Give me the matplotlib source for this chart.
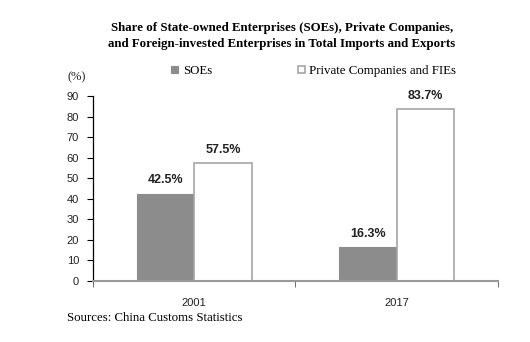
import matplotlib.pyplot as plt
import numpy as np

# --- Data ---
years = ['2001', '2017']
soes = [42.5, 16.3]
private_fies = [57.5, 83.7]
series_names = ['SOEs', 'Private Companies and FIEs']

serif = 'Liberation Serif'
sans = 'Liberation Sans'

fig = plt.figure(figsize=(5.3, 3.42), dpi=100)
ax = fig.add_axes([0.1755, 0.1784, 0.764, 0.541])

x = np.arange(len(years))
w = 0.285
grey = '#8c8c8c'
b1 = ax.bar(x - w / 2, soes, w, color=grey, edgecolor=grey, linewidth=0.8, label=series_names[0])
b2 = ax.bar(x + w / 2, private_fies, w, color='white', edgecolor='#a6a6a6', linewidth=1.2,
            label=series_names[1])

# --- Value labels ---
for bars, vals in ((b1, soes), (b2, private_fies)):
    for bar, v in zip(bars, vals):
        ax.text(bar.get_x() + bar.get_width() / 2, v + 3.5, f'{v:.1f}%',
                ha='center', va='bottom', fontsize=9, fontweight='bold', family=sans, color='#222222')

# --- Axes styling ---
ax.set_xlim(-0.5, 1.5)
ax.set_ylim(0, 90)
ax.set_yticks(range(0, 91, 10))
ax.set_xticks(x)
ax.set_xticklabels(years)
ax.set_xticks([-0.5, 0.5, 1.5], minor=True)
ax.tick_params(axis='x', which='major', length=0, pad=12)
ax.tick_params(axis='x', which='minor', length=4, color='#555555', direction='out')
ax.tick_params(axis='y', length=4, direction='out', color='black', pad=6)
for lbl in ax.get_xticklabels() + ax.get_yticklabels():
    lbl.set_family(sans)
    lbl.set_fontsize(8)
    lbl.set_color('#222222')

for s in ('top', 'right'):
    ax.spines[s].set_visible(False)
ax.spines['left'].set_color('black')
ax.spines['left'].set_linewidth(0.9)
ax.spines['bottom'].set_color('#999999')
ax.spines['bottom'].set_linewidth(1.5)

# --- Title, legend, notes ---
fig.text(0.532, 0.896, 'Share of State-owned Enterprises (SOEs), Private Companies,\n'
         'and Foreign-invested Enterprises in Total Imports and Exports',
         ha='center', va='center', family=serif, fontweight='bold', fontsize=9.3, linespacing=1.45)

fig.legend(handles=[b1, b2], loc='center', bbox_to_anchor=(0.592, 0.792), ncol=2, frameon=False,
           prop={'family': serif, 'size': 9.3}, handlelength=0.55, handleheight=0.55,
           handletextpad=0.35, columnspacing=6.6)

fig.text(0.128, 0.775, '(%)', family=serif, fontsize=9, va='center', color='#222222')
fig.text(0.126, 0.07, 'Sources: China Customs Statistics', family=serif, fontsize=9.3, va='center')

fig.savefig('out.png', dpi=100)
